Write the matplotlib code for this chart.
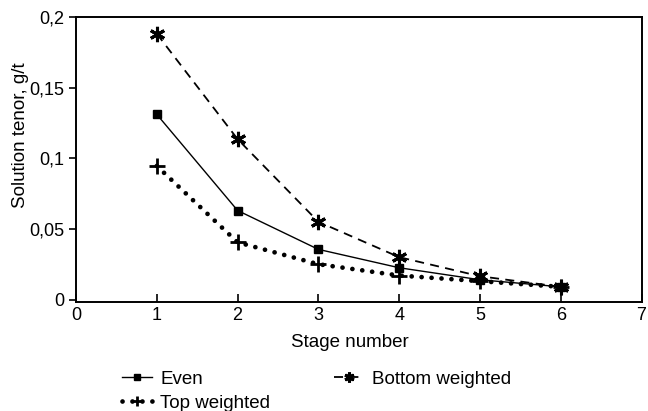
import matplotlib
matplotlib.use("Agg")
import matplotlib.pyplot as plt

plt.rcParams["font.family"] = ["Liberation Sans", "DejaVu Sans"]

stages = [1, 2, 3, 4, 5, 6]
even = [0.131, 0.063, 0.0355, 0.0225, 0.014, 0.009]
top_weighted = [0.0945, 0.0405, 0.025, 0.017, 0.013, 0.009]
bottom_weighted = [0.188, 0.1135, 0.055, 0.030, 0.0165, 0.009]

x_ticks = [0, 1, 2, 3, 4, 5, 6, 7]
y_ticks = [0, 0.05, 0.1, 0.15, 0.2]
y_labels = ["0", "0,05", "0,1", "0,15", "0,2"]


def main():
    fig = plt.figure(figsize=(6.48, 4.11), dpi=100)
    ax = fig.add_axes([0.1173, 0.266, 0.8727, 0.693])

    h_even, = ax.plot(stages, even, color="black", lw=1.0, marker="s",
                      markersize=6, label="Even")
    h_top, = ax.plot(stages, top_weighted, color="black", lw=3.4,
                     linestyle=(0, (0.01, 2.1)), dash_capstyle="round",
                     marker="+", markersize=11, markeredgewidth=2.0,
                     label="Top weighted")
    h_bot, = ax.plot(stages, bottom_weighted, color="black", lw=1.3,
                     linestyle=(0, (5, 3.5)), marker=(6, 2, 0),
                     markersize=11, markeredgewidth=2.2,
                     label="Bottom weighted")

    ax.set_xlim(0, 7)
    ax.set_ylim(-0.0015, 0.2)
    ax.set_xticks(x_ticks)
    ax.set_yticks(y_ticks)
    ax.set_yticklabels(y_labels)
    ax.tick_params(axis="x", direction="in", length=6, width=1.2,
                   labelsize=13, pad=4)
    ax.tick_params(axis="y", direction="out", length=5, width=1.2,
                   labelsize=13)
    for s in ax.spines.values():
        s.set_linewidth(1.4)

    ax.set_xlabel("Stage number", fontsize=13.5)
    ax.set_ylabel("Solution tenor, g/t", fontsize=13.5)
    ax.xaxis.set_label_coords(0.485, -0.115)
    ax.yaxis.set_label_coords(-0.083, 0.586)

    fig.legend(handles=[h_even, h_top, h_bot], ncol=2, frameon=False,
               loc="upper left", bbox_to_anchor=(0.188, 0.098),
               fontsize=13.5, handlelength=1.6, handletextpad=0.45,
               columnspacing=3.4, labelspacing=0.35, borderaxespad=0,
               borderpad=0, markerscale=0.65)

    fig.savefig("out.png", dpi=100)
    plt.close(fig)


if __name__ == "__main__":
    main()
